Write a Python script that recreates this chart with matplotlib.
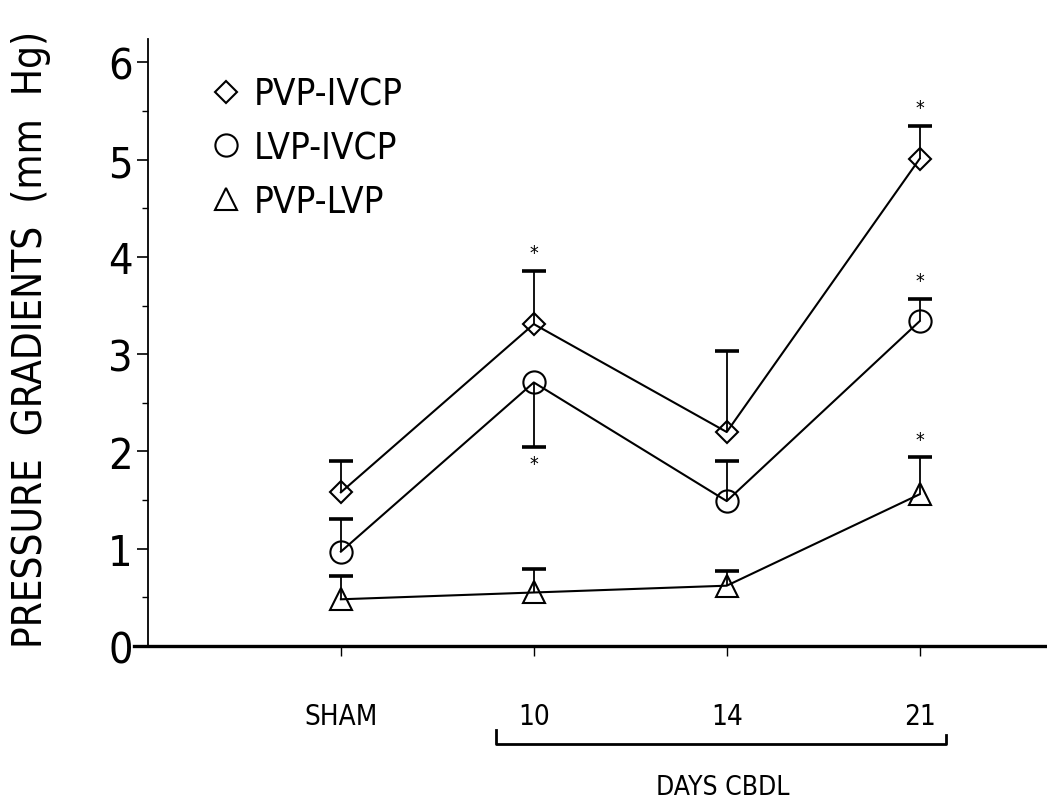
import matplotlib
matplotlib.use('Agg')
import matplotlib.pyplot as plt
from matplotlib.lines import Line2D
import numpy as np

plt.rcParams['font.family'] = 'DejaVu Sans'
plt.rcParams['font.stretch'] = 'condensed'
plt.rcParams['font.weight'] = 'light'

# data
groups = ['SHAM', '10', '14', '21']

pvp_ivcp = [1.58, 3.31, 2.20, 5.01]
pvp_ivcp_err = [0.32, 0.55, 0.83, 0.34]

lvp_ivcp = [0.97, 2.71, 1.49, 3.34]
lvp_ivcp_err = [0.34, 0.66, 0.41, 0.23]
lvp_ivcp_dir = [1, -1, 1, 1]   # the 10-day bar points down

pvp_lvp = [0.48, 0.55, 0.62, 1.56]
pvp_lvp_err = [0.24, 0.24, 0.15, 0.38]

# which points carry a significance star
stars_pvp_ivcp = [False, True, False, True]
stars_lvp_ivcp = [False, True, False, True]
stars_pvp_lvp = [False, False, False, True]

fig = plt.figure(figsize=(10.47, 8.03), dpi=100)
ax = fig.add_axes([0.1413, 0.1943, 0.8587, 0.7557])

x = np.arange(1, len(groups) + 1)


def draw_series(vals, errs, dirs, marker, ms, stars):
    vals = np.array(vals)
    errs = np.array(errs) * np.array(dirs)
    ends = vals + errs
    ax.vlines(x, vals, ends, color='black', lw=1.3, zorder=2)
    ax.plot(x, ends, ls='none', marker='_', ms=17, mew=2.6, color='black', zorder=2)
    ax.plot(x, vals, color='black', lw=1.5, marker=marker, ms=ms,
            mfc='none', mec='black', mew=1.5, zorder=3)
    for xi, yi, e, s in zip(x, vals, errs, stars):
        if s:
            off = 13 if e > 0 else -12
            ax.annotate('*', (xi, yi + e), xytext=(0, off), textcoords='offset points',
                        ha='center', va='center', fontsize=14)


draw_series(pvp_ivcp, pvp_ivcp_err, [1, 1, 1, 1], 'D', 11, stars_pvp_ivcp)
draw_series(lvp_ivcp, lvp_ivcp_err, lvp_ivcp_dir, 'o', 16, stars_lvp_ivcp)
draw_series(pvp_lvp, pvp_lvp_err, [1, 1, 1, 1], '^', 16, stars_pvp_lvp)

ax.set_xlim(0, 4.66)
ax.set_ylim(0, 6.24)

ax.spines['top'].set_visible(False)
ax.spines['right'].set_visible(False)
ax.spines['left'].set_linewidth(1.3)
ax.spines['bottom'].set_linewidth(2.4)
ax.spines['bottom'].set_bounds(-0.07, 4.66)

ax.set_yticks(range(0, 7))
ax.set_yticks(np.arange(0.5, 6.5, 1.0), minor=True)
ax.tick_params(axis='y', which='major', length=8, width=1.2, labelsize=31, pad=3)
ax.tick_params(axis='y', which='minor', length=4, width=1.0)

ax.set_xticks(x)
ax.set_xticklabels(groups)
ax.tick_params(axis='x', length=7, width=1.0, labelsize=20, pad=33)

ax.set_ylabel('PRESSURE  GRADIENTS  (mm  Hg)', fontsize=29, va='center')
ax.yaxis.set_label_coords(-0.130, 0.506)

# bracket under the CBDL days
fig.add_artist(Line2D([0.474, 0.474, 0.904, 0.904], [0.090, 0.072, 0.072, 0.084],
                      color='black', lw=2.0))
fig.text(0.690, 0.0187, 'DAYS CBDL', ha='center', va='center', fontsize=19)

handles = [
    Line2D([], [], ls='none', marker='D', ms=11, mfc='none', mec='black', mew=1.5),
    Line2D([], [], ls='none', marker='o', ms=16, mfc='none', mec='black', mew=1.5),
    Line2D([], [], ls='none', marker='^', ms=16, mfc='none', mec='black', mew=1.5),
]
ax.legend(handles, ['PVP-IVCP', 'LVP-IVCP', 'PVP-LVP'], loc='upper left',
          bbox_to_anchor=(0.0667, 0.940), frameon=False, fontsize=26.5,
          handlelength=1.0, handletextpad=0.25, labelspacing=0.45,
          borderpad=0, borderaxespad=0)

fig.savefig('out.png', dpi=100)
